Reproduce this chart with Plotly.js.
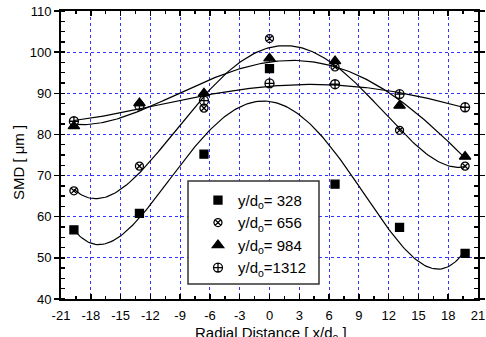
<!DOCTYPE html>
<html>
<head>
<meta charset="utf-8">
<script src="https://cdn.plot.ly/plotly-3.0.1.min.js"></script>
<style>html,body{margin:0;padding:0;background:#fff;}#chart{width:486px;height:337px;}</style>
</head>
<body>
<div id="chart"></div>
<script>
const xPos = [-19.7, -13.1, -6.6, 0, 6.6, 13.1, 19.7];
const smd328 = [56.8, 60.8, 75.2, 96.0, 67.9, 57.4, 51.1];
const smd656 = [66.3, 72.3, 86.4, 103.3, 96.4, 81.0, 72.3];
const smd984 = [82.0, 87.6, 90.0, 98.5, 97.8, 87.0, 74.6];
const smd1312 = [83.2, 87.0, 88.2, 92.4, 92.2, 89.8, 86.6];
const seriesNames = ['y/d<sub>o</sub>= 328', 'y/d<sub>o</sub>= 656', 'y/d<sub>o</sub>= 984', 'y/d<sub>o</sub>=1312'];
const xTicks = [-21, -18, -15, -12, -9, -6, -3, 0, 3, 6, 9, 12, 15, 18, 21];
const xTitle = 'Radial Distance [ x/d<sub>o</sub> ]';
const yTitle = 'SMD [ μm ]';

// least-squares polynomial fit (degree 4), evaluated along the data range
function polyfit(xs, ys, deg) {
  const s = 20;
  const n = deg + 1;
  const A = [];
  for (let i = 0; i < n; i++) { A.push(new Array(n + 1).fill(0)); }
  for (let k = 0; k < xs.length; k++) {
    const t = xs[k] / s;
    for (let i = 0; i < n; i++) {
      for (let j = 0; j < n; j++) A[i][j] += Math.pow(t, i + j);
      A[i][n] += ys[k] * Math.pow(t, i);
    }
  }
  for (let i = 0; i < n; i++) {
    let p = i;
    for (let r = i + 1; r < n; r++) if (Math.abs(A[r][i]) > Math.abs(A[p][i])) p = r;
    [A[i], A[p]] = [A[p], A[i]];
    for (let r = 0; r < n; r++) {
      if (r === i) continue;
      const f = A[r][i] / A[i][i];
      for (let c = i; c <= n; c++) A[r][c] -= f * A[i][c];
    }
  }
  const coef = A.map((row, i) => row[n] / row[i]);
  return x => coef.reduce((acc, c, i) => acc + c * Math.pow(x / s, i), 0);
}
function curve(ys) {
  const f = polyfit(xPos, ys, 4);
  const cx = [], cy = [];
  const x0 = xPos[0], x1 = xPos[xPos.length - 1];
  for (let i = 0; i <= 200; i++) { const x = x0 + (x1 - x0) * i / 200; cx.push(x); cy.push(f(x)); }
  return {cx, cy};
}

const all = [smd328, smd656, smd984, smd1312];
const symbols = ['square', 'circle-x-open', 'triangle-up', 'circle-cross-open'];
const sizes = [8, 8, 10, 9];
const traces = [];
all.forEach((ys) => {
  const c = curve(ys);
  traces.push({x: c.cx, y: c.cy, mode: 'lines', line: {color: '#000', width: 1.2}, showlegend: false, hoverinfo: 'skip'});
});
all.forEach((ys, i) => {
  traces.push({x: xPos, y: ys, mode: 'markers', name: seriesNames[i],
    marker: {symbol: symbols[i], size: sizes[i], color: '#000', line: {color: '#000', width: 1.3}}});
});

const FONT = 'Liberation Sans, Arial, sans-serif';
const axisCommon = {
  showline: true, linecolor: '#000', linewidth: 2, mirror: 'allticks',
  ticks: 'inside', ticklen: 5, tickwidth: 1.5, tickcolor: '#000',
  showgrid: true, gridcolor: '#3333ff', griddash: 'dot', gridwidth: 1,
  zeroline: false,
  tickfont: {family: FONT, size: 13, color: '#000'}
};
const layout = {
  width: 486, height: 337,
  margin: {l: 61, r: 8, t: 11, b: 38},
  paper_bgcolor: '#fff', plot_bgcolor: '#fff',
  font: {family: FONT, color: '#000'},
  xaxis: Object.assign({}, axisCommon, {
    range: [-21, 21], tickvals: xTicks, ticktext: xTicks.map(String),
    ticklabelstandoff: 3,
    minor: {dtick: 1.5, tick0: 0, ticks: 'inside', ticklen: 3, tickcolor: '#000', showgrid: false}
  }),
  yaxis: Object.assign({}, axisCommon, {
    range: [40, 110], dtick: 10, tick0: 40, ticks: 'outside',
    minor: {dtick: 2.5, tick0: 40, ticks: 'inside', ticklen: 4, tickcolor: '#000', showgrid: false}
  }),
  annotations: [
    {text: xTitle, xref: 'paper', yref: 'paper', x: 0.5036, y: -0.08, xanchor: 'center', yanchor: 'top',
     showarrow: false, font: {size: 15, family: FONT, color: '#000'}},
    {text: yTitle, xref: 'paper', yref: 'paper', x: -0.103, y: 0.472, xanchor: 'center', yanchor: 'middle',
     textangle: -90, showarrow: false, font: {size: 15, family: FONT, color: '#000'}}
  ],
  shapes: [{
    type: 'rect', xref: 'paper', yref: 'paper', layer: 'above',
    x0: 0.3046, x1: 0.6187, y0: 0.052, y1: 0.4097,
    fillcolor: '#fff', line: {color: '#333', width: 1.5}
  }],
  legend: {
    x: 0.3285, y: 0.40, xanchor: 'left', yanchor: 'top',
    bgcolor: 'rgba(0,0,0,0)', borderwidth: 0,
    font: {size: 15, family: FONT},
    itemwidth: 30
  },
  showlegend: true
};
Plotly.newPlot('chart', traces, layout, {displayModeBar: false, staticPlot: true});
</script>
</body>
</html>
